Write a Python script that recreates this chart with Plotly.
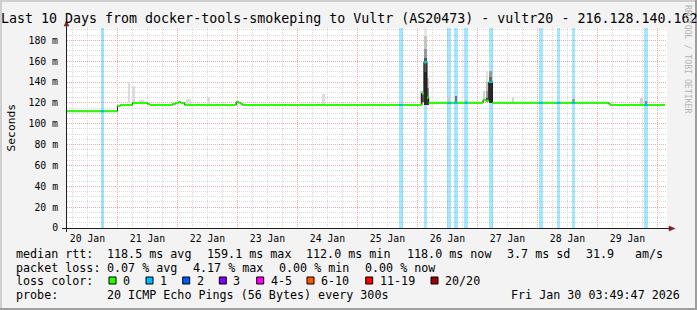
import plotly.graph_objects as go
from datetime import datetime, timedelta

FMT = "%Y-%m-%d %H:%M"


def T(s):
    return datetime.strptime(s, FMT)


# ---------------- data ----------------
RANGE_START = datetime(2026, 1, 20, 3, 49, 47)
RANGE_END = datetime(2026, 1, 30, 3, 49, 47)
Y_MAX = 191.8

# median RTT (ms), step starts
median_times = [
    "2026-01-20 03:50", "2026-01-21 00:00", "2026-01-21 01:10", "2026-01-21 06:00",
    "2026-01-21 12:00", "2026-01-21 13:00", "2026-01-21 22:00", "2026-01-21 23:20",
    "2026-01-22 00:30", "2026-01-22 01:20", "2026-01-22 02:55", "2026-01-22 23:30",
    "2026-01-23 00:30", "2026-01-23 01:20", "2026-01-23 02:05", "2026-01-26 01:45",
    "2026-01-26 02:35", "2026-01-26 03:50", "2026-01-26 04:30", "2026-01-27 02:15",
    "2026-01-27 03:20", "2026-01-27 04:30", "2026-01-27 06:00", "2026-01-29 04:30",
    "2026-01-29 05:10",
]
median_ms = [
    112, 117, 118, 120,
    119, 118, 119, 120,
    121, 120, 118, 121,
    120, 119, 118, 129,
    159, 125, 120, 123,
    122, 140, 120, 119,
    118,
]
median_end = "2026-01-30 02:55"

# samples with 1/20 packet loss
loss_times = [
    "2026-01-20 18:00", "2026-01-25 17:20", "2026-01-26 03:15", "2026-01-26 12:40",
    "2026-01-26 15:20", "2026-01-26 19:30", "2026-01-27 05:25", "2026-01-28 01:20",
    "2026-01-28 08:25", "2026-01-28 14:25", "2026-01-29 19:25",
]

# smoke (ping spread) bands: time, low ms, high ms, gray shade
smoke_times = [
    "2026-01-21 04:40", "2026-01-21 06:30", "2026-01-21 09:15", "2026-01-21 10:15",
    "2026-01-22 04:00", "2026-01-22 05:00", "2026-01-22 12:20", "2026-01-24 10:30",
    "2026-01-26 01:40", "2026-01-26 02:05",
    "2026-01-26 03:10", "2026-01-26 03:10", "2026-01-26 03:10", "2026-01-26 03:10", "2026-01-26 03:10",
    "2026-01-26 04:10", "2026-01-26 04:10", "2026-01-26 04:10",
    "2026-01-26 12:25", "2026-01-26 15:25", "2026-01-26 19:30",
    "2026-01-27 02:40",
    "2026-01-27 03:45", "2026-01-27 03:45", "2026-01-27 03:45", "2026-01-27 03:45",
    "2026-01-27 05:15", "2026-01-27 05:15", "2026-01-27 05:15",
    "2026-01-27 14:15", "2026-01-28 14:20", "2026-01-29 17:35", "2026-01-29 19:25",
]
smoke_low = [
    120, 120, 120, 120,
    118, 118, 118, 118,
    118, 121,
    118, 150, 163, 172, 184,
    118, 126, 134,
    120, 120, 120,
    122,
    121, 125, 131, 140,
    120, 140, 145,
    120, 120, 118, 118,
]
smoke_high = [
    140, 136, 123, 123,
    124, 124, 126, 128.5,
    131, 129,
    150, 163, 172, 184, 191.8,
    126, 134, 144,
    126, 127, 123,
    131,
    125, 131, 140, 151,
    140, 145, 151,
    126, 123.5, 125, 121.5,
]
smoke_shade = [
    "#dcdcdc", "#dcdcdc", "#e0e0e0", "#e0e0e0",
    "#dddddd", "#dddddd", "#dcdcdc", "#dcdcdc",
    "#cccccc", "#555555",
    "#2a2a2a", "#555555", "#999999", "#c4c4c4", "#e6e6e6",
    "#3a3a3a", "#888888", "#cccccc",
    "#cfcfcf", "#777777", "#bbbbbb",
    "#d0d0d0",
    "#444444", "#999999", "#c0c0c0", "#e0e0e0",
    "#2a2a2a", "#666666", "#999999",
    "#d8d8d8", "#999999", "#d0d0d0", "#888888",
]

y_tick_values = [0, 20, 40, 60, 80, 100, 120, 140, 160, 180]
y_tick_labels = ["0", "20 m", "40 m", "60 m", "80 m", "100 m", "120 m", "140 m", "160 m", "180 m"]

title_text = "Last 10 Days from docker-tools-smokeping to Vultr (AS20473) - vultr20 - 216.128.140.162"
rtt_items = ["median rtt:", "118.5 ms avg", "159.1 ms max", "112.0 ms min", "118.0 ms now", "3.7 ms sd", "31.9", "am/s"]
loss_items = ["packet loss:", "0.07 % avg", "4.17 % max", "0.00 % min", "0.00 % now"]
loss_labels = ["0", "1", "2", "3", "4-5", "6-10", "11-19", "20/20"]
loss_colors = ["#26ff00", "#00b8ff", "#0059ff", "#7e00ff", "#ff00ff", "#ff5500", "#ff0000", "#a10000"]
probe_items = ["probe:", "20 ICMP Echo Pings (56 Bytes) every 300s"]
stamp_text = "Fri Jan 30 03:49:47 2026"

# ---------------- layout geometry (pixels) ----------------
W, H = 697, 310
PL, PR, PT, PB = 67, 667, 28, 228
MONO = "DejaVu Sans Mono"
HOUR_MS = 3600000


def px(x):
    return (x - PL) / (PR - PL)


def py(y):
    return (PB - y) / (PB - PT)


fig = go.Figure()

# loss background bars
lt = [T(s) for s in loss_times]
fig.add_trace(go.Bar(
    x=lt, y=[Y_MAX] * len(lt), base=[0] * len(lt), width=1.4 * HOUR_MS,
    marker=dict(color="rgba(0,184,255,0.35)", line=dict(width=0)),
    hoverinfo="skip", showlegend=False))

# smoke
st = [T(s) for s in smoke_times]
fig.add_trace(go.Bar(
    x=st, y=[h - l for l, h in zip(smoke_low, smoke_high)], base=smoke_low,
    width=1.0 * HOUR_MS,
    marker=dict(color=smoke_shade, line=dict(width=0)),
    hoverinfo="skip", showlegend=False))

# median: black steps + green horizontal segments
mt = [T(s) for s in median_times] + [T(median_end)]
fig.add_trace(go.Scatter(
    x=mt, y=median_ms + [median_ms[-1]], mode="lines",
    line=dict(color="#111111", width=1, shape="hv"),
    hoverinfo="skip", showlegend=False))
gx, gy = [], []
for i, v in enumerate(median_ms):
    gx += [mt[i], mt[i + 1], None]
    gy += [v, v, None]
fig.add_trace(go.Scatter(
    x=gx, y=gy, mode="lines", line=dict(color=loss_colors[0], width=2),
    hoverinfo="skip", showlegend=False))

# loss-coloured pieces of the median
bx, by = [], []
for t in lt:
    v = median_ms[0]
    for i in range(len(median_ms)):
        if mt[i] <= t:
            v = median_ms[i]
    bx += [t - timedelta(minutes=42), t + timedelta(minutes=42), None]
    by += [v, v, None]
fig.add_trace(go.Scatter(
    x=bx, y=by, mode="lines", line=dict(color=loss_colors[1], width=2),
    hoverinfo="skip", showlegend=False))

# ---------------- decorations ----------------
shapes = []
# frame
shapes.append(dict(type="line", xref="paper", yref="paper", x0=px(0), x1=px(W), y0=py(1), y1=py(1),
                   line=dict(color="#CFCFCF", width=2)))
shapes.append(dict(type="line", xref="paper", yref="paper", x0=px(1), x1=px(1), y0=py(0), y1=py(H),
                   line=dict(color="#CFCFCF", width=2)))
shapes.append(dict(type="line", xref="paper", yref="paper", x0=px(0), x1=px(W), y0=py(H - 1), y1=py(H - 1),
                   line=dict(color="#9E9E9E", width=2)))
shapes.append(dict(type="line", xref="paper", yref="paper", x0=px(W - 1), x1=px(W - 1), y0=py(0), y1=py(H),
                   line=dict(color="#9E9E9E", width=2)))
# axes
shapes.append(dict(type="line", xref="paper", yref="paper", x0=px(62), x1=px(670), y0=py(228.5), y1=py(228.5),
                   line=dict(color="#1F1F1F", width=1)))
shapes.append(dict(type="line", xref="paper", yref="paper", x0=px(66.5), x1=px(66.5), y0=py(232), y1=py(25),
                   line=dict(color="#1F1F1F", width=1)))
# arrows
def P(x, y):
    return f"{px(x)} {py(y)}"
shapes.append(dict(type="path", xref="paper", yref="paper",
                   path=f"M {P(64, 26)} L {P(69, 26)} L {P(66.5, 21)} Z",
                   fillcolor="#7F1F1F", line=dict(color="#7F1F1F", width=0.5)))
shapes.append(dict(type="path", xref="paper", yref="paper",
                   path=f"M {P(669, 226)} L {P(669, 231)} L {P(675, 228.5)} Z",
                   fillcolor="#7F1F1F", line=dict(color="#7F1F1F", width=0.5)))

annotations = []


def txt(x, y, s, size=11.7, anchor="left", color="black", angle=0):
    annotations.append(dict(
        text=s, xref="paper", yref="paper", x=px(x), y=py(y), xanchor=anchor, yanchor="middle",
        showarrow=False, borderpad=0, borderwidth=0, textangle=angle,
        font=dict(family=MONO, size=size, color=color)))


txt(348.5, 18.5, title_text, size=13.3, anchor="center")
txt(10.5, 128, "Seconds", size=11.3, anchor="center", angle=-90)
txt(688, 59, "RRDTOOL / TOBI OETIKER", size=8.2, anchor="center", color="#B4B4B4", angle=90)

rtt_x = [16, 106.7, 207.3, 306, 407.3, 506.7, 586, 635]
for x, s in zip(rtt_x, rtt_items):
    txt(x, 254, s)
loss_x = [16, 107.3, 193.3, 279.3, 365]
for x, s in zip(loss_x, loss_items):
    txt(x, 268, s)
txt(16, 281, "loss color:")
sq_x = [109, 146, 182.7, 219.3, 256.7, 307, 365.7, 431]
for x, lab, col in zip(sq_x, loss_labels, loss_colors):
    shapes.append(dict(type="rect", xref="paper", yref="paper", x0=px(x), x1=px(x + 7),
                       y0=py(277), y1=py(284), fillcolor=col, line=dict(color="black", width=1)))
    txt(x + 14, 281, lab)
txt(16, 294.5, probe_items[0])
txt(107, 294.5, probe_items[1])
txt(680, 294.5, stamp_text, anchor="right")

grid_major = "#F0A8A8"
grid_minor = "#DADADA"
fig.update_layout(
    width=W, height=H,
    margin=dict(l=PL, r=W - PR, t=PT, b=H - PB, pad=0),
    paper_bgcolor="#F3F3F3", plot_bgcolor="white",
    barmode="overlay", bargap=0,
    showlegend=False,
    shapes=shapes, annotations=annotations,
    xaxis=dict(
        type="date", range=[RANGE_START, RANGE_END],
        tick0="2026-01-20", dtick=86400000, tickformat="%d %b", ticklabelmode="period",
        showgrid=True, gridcolor=grid_major, griddash="1px,1px", gridwidth=1,
        minor=dict(dtick=6 * HOUR_MS, tick0="2026-01-20", showgrid=True,
                   gridcolor=grid_minor, griddash="1px,1px", gridwidth=1),
        showline=False, zeroline=False,
        ticks="outside", ticklen=1, tickcolor="rgba(0,0,0,0)",
        tickfont=dict(family=MONO, size=9.8, color="black"),
        fixedrange=True),
    yaxis=dict(
        range=[0, Y_MAX], tickvals=y_tick_values, ticktext=y_tick_labels,
        showgrid=True, gridcolor=grid_major, griddash="1px,1px", gridwidth=1,
        minor=dict(dtick=5, tick0=0, showgrid=True, gridcolor=grid_minor,
                   griddash="1px,1px", gridwidth=1),
        showline=False, zeroline=False,
        ticks="outside", ticklen=6, tickcolor="rgba(0,0,0,0)",
        tickfont=dict(family=MONO, size=9.8, color="black"),
        fixedrange=True),
)

fig.write_html("out.html", config={"displayModeBar": False})
